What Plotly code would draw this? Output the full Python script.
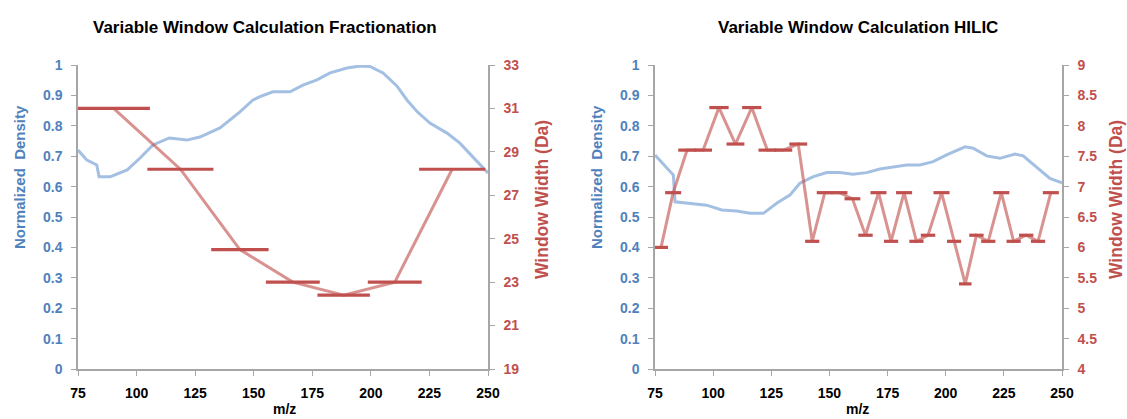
import plotly.graph_objects as go

# ---- Fractionation panel ----
frac_mz = [75, 78.8, 83, 84, 88.7, 96, 101.5, 107, 114, 121.5, 127, 135.6, 144, 149.7,
           152.7, 158.2, 165.5, 171, 177, 182.6, 189.8, 195.4, 199.6, 205.2, 211.1,
           215.4, 219.7, 225.2, 232.5, 238, 243.6, 250]
frac_density = [0.72, 0.687, 0.671, 0.632, 0.632, 0.655, 0.694, 0.737, 0.76, 0.753, 0.763,
                 0.793, 0.845, 0.885, 0.896, 0.912, 0.912, 0.934, 0.951, 0.974, 0.99, 0.997,
                 0.995, 0.974, 0.931, 0.885, 0.847, 0.809, 0.776, 0.743, 0.697, 0.645]
frac_win_center = [90.2, 118.7, 144.1, 166.7, 188.4, 210.2, 234.7]
frac_win_width = [31.0, 28.2, 24.5, 23.0, 22.4, 23.0, 28.2]

# ---- HILIC panel ----
hilic_mz = [75, 82.9, 83.6, 91.3, 97.2, 103.7, 110.1, 115.8, 121.6, 127.3, 133, 137.3,
            143.1, 148.8, 154.5, 160.1, 166, 171.7, 177.5, 183.2, 188.9, 194.6, 200.4,
            208.3, 211.8, 217.6, 223.3, 229.8, 233.3, 239.1, 244.8, 250]
hilic_density = [0.704, 0.638, 0.55, 0.545, 0.539, 0.523, 0.52, 0.512, 0.512, 0.545, 0.572,
                 0.611, 0.633, 0.646, 0.646, 0.641, 0.646, 0.658, 0.665, 0.671, 0.671,
                 0.682, 0.704, 0.731, 0.726, 0.701, 0.693, 0.707, 0.701, 0.665, 0.627, 0.612]
hilic_win_center = [77.6, 82.8, 88.8, 95.7, 102.5, 109.6, 116.6, 123.3, 130.2, 136.6,
                    142.6, 148.0, 154.3, 159.9, 165.5, 171.1, 176.5, 182.1, 187.4, 192.4,
                    198.2, 203.6, 208.4, 213.2, 218.3, 223.9, 229.2, 234.6, 239.7, 245.2]
hilic_win_width = [6.0, 6.9, 7.6, 7.6, 8.3, 7.7, 8.3, 7.6, 7.6, 7.7, 6.1, 6.9, 6.9, 6.8,
                   6.2, 6.9, 6.1, 6.9, 6.1, 6.2, 6.9, 6.1, 5.4, 6.2, 6.1, 6.9, 6.1, 6.2,
                   6.1, 6.9]

mz_ticks = [75, 100, 125, 150, 175, 200, 225, 250]

BLUE_TXT = "#4f81bd"
RED_TXT = "#c0504d"
BLUE_LINE = "#a3c0e3"
RED_LINE = "rgba(192,80,77,0.62)"
RED_BAR = "#c0504d"
AXIS_GREY = "#a6a6a6"
FONT = "Liberation Sans, Arial, sans-serif"

W, H = 1127, 419


def px_x(p):
    return p / W


def px_y(p):
    return 1 - p / H


fig = go.Figure()


def add_panel(fig, mz, dens, centers, widths, xa, ya, ya2):
    fig.add_trace(go.Scatter(x=mz, y=dens, mode="lines", xaxis=xa, yaxis=ya,
                             line=dict(color=BLUE_LINE, width=3), hoverinfo="skip",
                             showlegend=False))
    fig.add_trace(go.Scatter(x=centers, y=widths, mode="lines", xaxis=xa, yaxis=ya2,
                             line=dict(color=RED_LINE, width=3), hoverinfo="skip",
                             showlegend=False))
    fig.add_trace(go.Scatter(x=centers, y=widths, mode="markers", xaxis=xa, yaxis=ya2,
                             marker=dict(size=1, color=RED_BAR),
                             error_x=dict(type="data", array=[w / 2 for w in widths],
                                          symmetric=True, width=0, thickness=3.2,
                                          color=RED_BAR),
                             hoverinfo="skip", showlegend=False))


add_panel(fig, frac_mz, frac_density, frac_win_center, frac_win_width, "x", "y", "y2")
add_panel(fig, hilic_mz, hilic_density, hilic_win_center, hilic_win_width, "x2", "y3", "y4")

tick_common = dict(ticks="outside", ticklen=5, tickwidth=1.3, tickcolor=AXIS_GREY,
                   showline=True, linecolor=AXIS_GREY, linewidth=1.5, showgrid=False,
                   zeroline=False, fixedrange=True)

xdom1 = [px_x(78), px_x(488)]
xdom2 = [px_x(655), px_x(1062)]
ydom = [px_y(369), px_y(65)]

xcommon = dict(range=[75, 250], tickvals=mz_ticks,
               tickfont=dict(family=FONT, size=14, color="#000000", weight="bold"),
               ticklabelstandoff=5, **tick_common)

layout = dict(
    width=W, height=H, margin=dict(l=0, r=0, t=0, b=0, autoexpand=False),
    paper_bgcolor="white", plot_bgcolor="white", showlegend=False,
    xaxis={**xcommon, "domain": xdom1, "anchor": "y"},
    xaxis2={**xcommon, "domain": xdom2, "anchor": "y3"},
    yaxis=dict(domain=ydom, anchor="x", range=[0, 1], dtick=0.1,
               tickfont=dict(family=FONT, size=14, color=BLUE_TXT, weight="bold"),
               ticklabelstandoff=6, **tick_common),
    yaxis2=dict(domain=ydom, anchor="x", overlaying="y", side="right", range=[19, 33],
                tick0=19, dtick=2,
                tickfont=dict(family=FONT, size=14, color=RED_TXT, weight="bold"),
                ticklabelstandoff=6, **tick_common),
    yaxis3=dict(domain=ydom, anchor="x2", range=[0, 1], dtick=0.1,
                tickfont=dict(family=FONT, size=14, color=BLUE_TXT, weight="bold"),
                ticklabelstandoff=6, **tick_common),
    yaxis4=dict(domain=ydom, anchor="x2", overlaying="y3", side="right", range=[4, 9],
                dtick=0.5, tickfont=dict(family=FONT, size=14, color=RED_TXT, weight="bold"),
                ticklabelstandoff=6, **tick_common),
)
fig.update_layout(**layout)


def label(text, x, y, size, color, angle=0):
    fig.add_annotation(text=text, x=px_x(x), y=px_y(y), xref="paper", yref="paper",
                       showarrow=False, textangle=angle, xanchor="center", yanchor="middle",
                       font=dict(family=FONT, size=size, color=color, weight="bold"))


label("Variable Window Calculation Fractionation", 265, 27, 17, "#000000")
label("Variable Window Calculation HILIC", 858, 27, 17, "#000000")
label("Normalized\u00a0 Density", 19, 177, 15, BLUE_TXT, -90)
label("Window Width (Da)", 542, 200, 17.5, RED_TXT, -90)
label("Normalized\u00a0 Density", 596, 177, 15, BLUE_TXT, -90)
label("Window Width (Da)", 1116, 200, 17.5, RED_TXT, -90)
label("m/z", 284, 409, 14, "#000000")
label("m/z", 857, 409, 14, "#000000")

fig.write_html("out.html")
